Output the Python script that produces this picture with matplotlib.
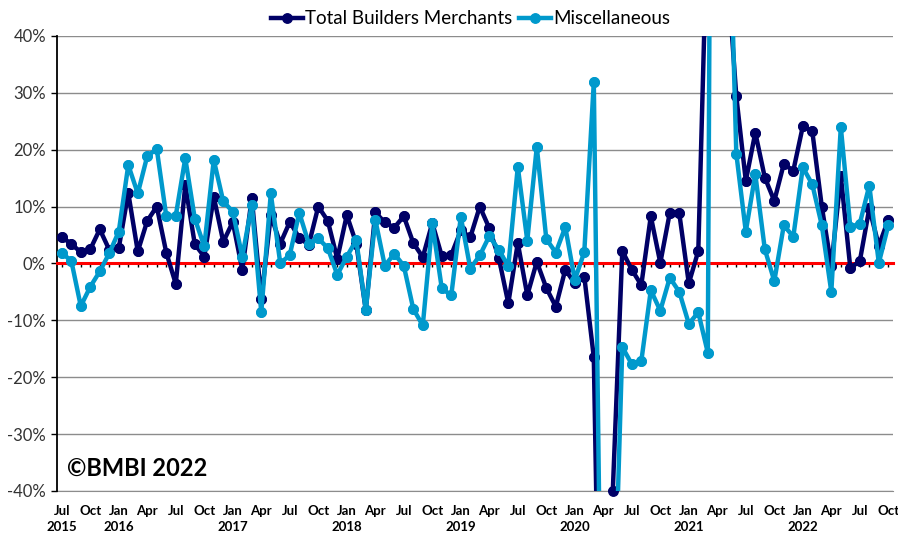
import numpy as np
import pandas as pd
import matplotlib
matplotlib.use("Agg")
import matplotlib.pyplot as plt

#%% data (year-on-year change, %)
months = pd.period_range("2015-07", "2022-10", freq="M")

total_bm = [4.7, 3.4, 2.0, 2.5, 6.0, 2.4,
            2.7, 12.4, 2.1, 7.5, 10.0, 1.9, -3.6, 13.8, 3.4, 1.2, 11.7, 3.8,
            7.3, -1.1, 11.5, -6.3, 8.5, 3.5, 7.3, 4.5, 3.3, 10.0, 7.5, 0.8,
            8.5, 3.5, -8.2, 9.0, 7.2, 6.3, 8.3, 3.6, 1.1, 7.1, 1.3, 1.5,
            5.8, 4.6, 10.0, 6.2, 1.0, -7.0, 3.6, -5.6, 0.3, -4.3, -7.6, -1.1,
            -3.5, -2.3, -16.5, -110.0, -40.0, 2.2, -1.1, -3.8, 8.3, 0.1, 8.9, 8.8,
            -3.5, 2.2, 64.0, 270.0, 53.0, 29.4, 14.5, 23.0, 15.1, 11.0, 17.5, 16.3,
            24.1, 23.2, 10.0, -0.5, 15.4, -0.8, 0.4, 9.7, 3.1, 7.7]

misc = [1.8, 0.5, -7.5, -4.1, -1.4, 1.8,
        5.6, 17.3, 12.3, 18.9, 20.1, 8.3, 8.4, 18.5, 7.9, 3.0, 18.2, 10.9,
        9.1, 1.2, 10.3, -8.6, 12.3, 0.0, 1.5, 8.9, 3.5, 4.4, 2.7, -2.0,
        1.2, 4.1, -8.2, 7.7, -0.4, 1.7, -0.4, -8.0, -10.9, 7.1, -4.4, -5.6,
        8.2, -0.9, 1.4, 4.8, 2.4, -0.5, 17.0, 4.0, 20.5, 4.3, 1.9, 6.4,
        -2.9, 2.0, 31.9, -100.0, -71.0, -14.7, -17.7, -17.2, -4.7, -8.3, -2.5, -5.0,
        -10.6, -8.6, -15.7, 320.0, 80.0, 19.3, 5.6, 15.7, 2.5, -3.1, 6.7, 4.7,
        16.9, 13.9, 6.7, -5.0, 24.0, 6.4, 7.0, 13.7, 0.1, 6.7]

series_names = ["Total Builders Merchants", "Miscellaneous"]

#%% plot
plt.rcParams['font.family'] = ['Lato', 'DejaVu Sans']

fig = plt.figure(figsize=(8.98, 5.36), dpi=100)
ax = fig.add_axes([0.0635, 0.084, 0.931, 0.849])

x = np.arange(len(months))
colours = ['#000066', '#0099CC']

for vals, col, name in zip([total_bm, misc], colours, series_names):
    v = np.array(vals)
    ax.plot(x, v, color=col, lw=3.2, marker='o', ms=6.8, label=name, zorder=3)
    # points sitting on the plot edge are drawn whole, as in Excel
    inside = np.where(np.abs(v) <= 40, v, np.nan)
    ax.plot(x, inside, 'o', color=col, ms=6.8, clip_on=False, zorder=3)

ax.set_xlim(-0.5, len(months) - 0.5)
ax.set_ylim(-40, 40)
ax.set_yticks(range(-40, 41, 10))
ax.set_yticklabels(["{}%".format(t) for t in range(-40, 41, 10)])
ax.tick_params(axis='y', length=4, width=1, labelsize=12, labelcolor='#333333', pad=4)
ax.yaxis.grid(True, color='#8c8c8c', lw=1)
ax.set_axisbelow(True)

# category axis crosses at 0 (red), labels kept at the bottom
ax.spines['bottom'].set_position(('data', 0))
ax.spines['bottom'].set_color('red')
ax.spines['bottom'].set_linewidth(2.2)
ax.spines['bottom'].set_zorder(2.5)
ax.spines['top'].set_visible(False)
ax.spines['right'].set_visible(False)
ax.spines['left'].set_linewidth(1.3)
ax.set_xticks(x)
ax.tick_params(axis='x', length=3, width=1, color='black', labelbottom=False)

tick_pos = x[::3]
tick_labels = []
for i in tick_pos:
    m = months[i]
    lab = m.strftime('%b')
    if m.month == 1 or i == 0:
        lab += '\n' + str(m.year)
    tick_labels.append(lab)

sec = ax.secondary_xaxis(0)
sec.set_xticks(tick_pos)
sec.set_xticklabels(tick_labels, fontweight='bold', fontsize=9.5, linespacing=1.45)
sec.tick_params(length=0, pad=10)
sec.spines['bottom'].set_color('#8c8c8c')

ax.text(0.012, 0.05, '\u00a9BMBI 2022', transform=ax.transAxes,
        fontsize=17, fontweight='bold', va='center', ha='left')

fig.legend(loc='upper center', bbox_to_anchor=(0.524, 1.012), ncol=2,
           frameon=False, fontsize=13.5, handlelength=1.7, handletextpad=0.1,
           columnspacing=0.4)

fig.savefig('out.png', dpi=100)
